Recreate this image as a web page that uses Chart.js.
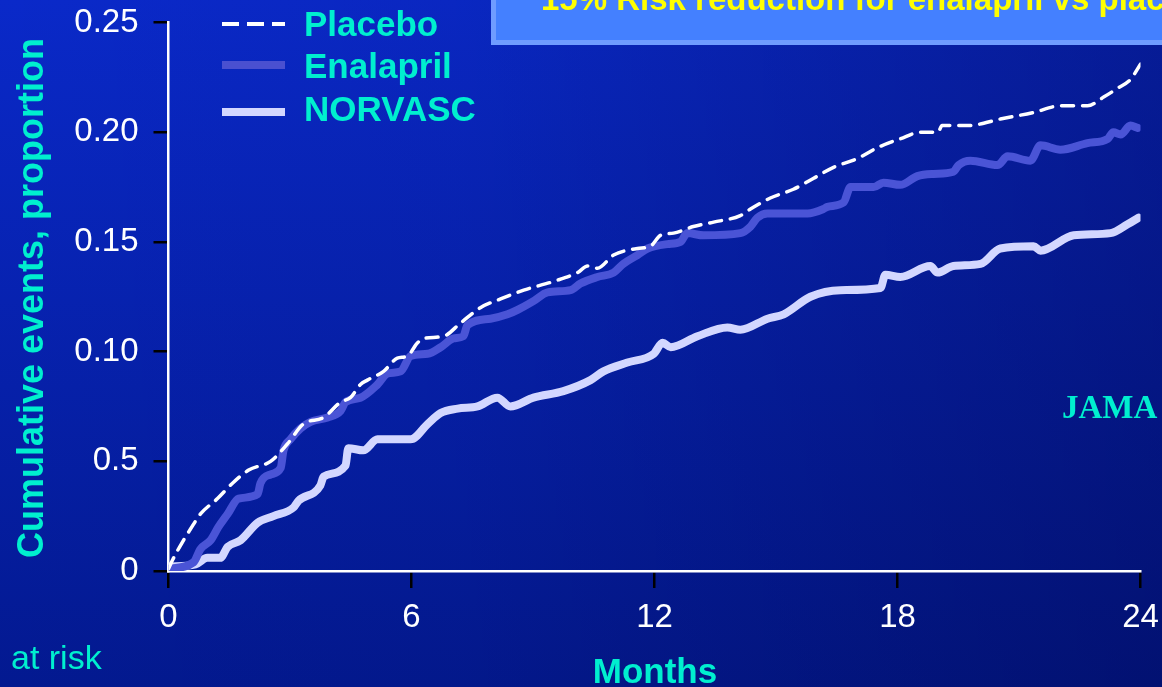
<!DOCTYPE html>
<html>
<head>
<meta charset="utf-8">
<script src="https://cdn.jsdelivr.net/npm/chart.js@4/dist/chart.umd.min.js"></script>
<style>
html,body{margin:0;padding:0;background:#031a9a;}
#wrap{position:relative;width:1162px;height:687px;}
canvas{display:block;}
</style>
</head>
<body>
<div id="wrap"><canvas id="c" width="1162" height="687"></canvas></div>
<script>
// ---- data ----
const seriesNames = ["Placebo", "Enalapril", "NORVASC"];
const xTickLabels = ["0", "6", "12", "18", "24"];
const yTickLabels = ["0", "0.5", "0.10", "0.15", "0.20", "0.25"];

const placeboMonths = [0,0.10,0.37,0.54,0.79,1.21,1.58,1.98,2.52,2.94,
  3.33,3.83,4.25,4.49,4.74,4.91,5.31,5.65,5.90,6.15,
  6.30,6.79,7.21,7.70,8.20,8.77,9.51,10.10,10.35,10.59,
  10.99,11.58,11.90,12.15,12.47,12.96,13.46,14.12,14.37,14.86,
  15.43,15.93,16.42,17.01,17.51,18.07,18.57,19.00,19.10,19.73,
  20.54,21.36,22.02,22.69,23.09,23.43,23.75,24.00];
const placeboValues = [0.001,0.005,0.014,0.019,0.026,0.033,0.040,0.046,0.050,0.058,
  0.067,0.070,0.077,0.079,0.085,0.087,0.091,0.097,0.098,0.104,
  0.106,0.107,0.113,0.120,0.124,0.128,0.132,0.136,0.139,0.138,
  0.144,0.147,0.148,0.153,0.154,0.157,0.159,0.162,0.165,0.170,
  0.174,0.179,0.184,0.188,0.193,0.197,0.200,0.200,0.203,0.203,
  0.206,0.209,0.212,0.212,0.216,0.220,0.224,0.231];

const enalaprilMonths = [0,0.62,0.79,1.04,1.23,1.46,1.73,2.20,2.27,2.52,
  2.77,2.84,3.01,3.26,3.51,3.93,4.25,4.37,4.74,5.16,
  5.41,5.73,5.98,6.40,6.72,7.04,7.28,7.38,7.95,8.37,
  8.62,9.01,9.36,9.93,10.17,10.59,10.99,11.23,11.58,11.83,
  12.32,12.64,12.81,13.21,14.12,14.37,14.54,14.79,15.78,16.17,
  16.27,16.67,16.84,17.41,17.65,18.07,18.49,18.89,19.38,19.51,
  19.80,20.47,20.72,21.28,21.53,22.02,22.69,23.19,23.33,23.51,
  23.75,23.93];
const enalaprilValues = [0.001,0.004,0.010,0.014,0.020,0.026,0.033,0.035,0.040,0.044,
  0.047,0.055,0.060,0.065,0.068,0.070,0.073,0.077,0.079,0.085,
  0.090,0.091,0.098,0.099,0.102,0.106,0.107,0.112,0.115,0.117,
  0.119,0.123,0.127,0.128,0.131,0.134,0.136,0.140,0.144,0.147,
  0.149,0.150,0.154,0.153,0.154,0.157,0.161,0.163,0.163,0.165,
  0.166,0.168,0.175,0.175,0.177,0.176,0.180,0.181,0.182,0.185,
  0.187,0.185,0.189,0.187,0.194,0.192,0.195,0.197,0.200,0.199,
  0.203,0.202];

const norvascMonths = [0,0.67,0.96,1.28,1.46,1.78,2.20,2.59,3.09,3.21,
  3.75,3.83,4.37,4.44,4.81,5.16,5.98,6.40,6.72,7.14,
  7.63,8.12,8.44,9.01,9.75,10.42,10.74,11.33,11.98,12.20,
  12.40,13.06,13.80,14.12,14.79,15.19,15.85,16.59,17.58,17.70,
  18.07,18.81,18.99,19.38,20.05,20.54,21.36,21.53,22.35,23.26,
  23.68,23.95];
const norvascValues = [0.002,0.003,0.006,0.006,0.011,0.014,0.022,0.025,0.029,0.032,
  0.039,0.043,0.048,0.056,0.055,0.060,0.060,0.067,0.072,0.074,
  0.075,0.079,0.075,0.079,0.082,0.087,0.091,0.095,0.099,0.104,
  0.102,0.107,0.111,0.110,0.115,0.117,0.125,0.128,0.129,0.135,
  0.134,0.139,0.136,0.139,0.140,0.147,0.148,0.146,0.153,0.154,
  0.158,0.161];

const bannerText = "15% Risk reduction for enalapril vs placebo";

// ---- helpers ----
const zip = (xs, ys) => xs.map((x, i) => ({x: x, y: ys[i]}));
const SANS = '"Liberation Sans", Arial, Helvetica, sans-serif';
const CYAN = '#00EFCF';

const bgPlugin = {
  id: 'bg',
  beforeDraw(chart) {
    const ctx = chart.ctx, w = chart.width, h = chart.height;
    ctx.save();
    const g = ctx.createLinearGradient(0, 0, 0, h);
    g.addColorStop(0, '#0a29c9');
    g.addColorStop(1, '#031990');
    ctx.fillStyle = g;
    ctx.fillRect(0, 0, w, h);
    const g2 = ctx.createLinearGradient(0, 0, w, 0);
    g2.addColorStop(0, 'rgba(0,0,40,0)');
    g2.addColorStop(0.4, 'rgba(0,0,40,0.05)');
    g2.addColorStop(1, 'rgba(0,0,50,0.32)');
    ctx.fillStyle = g2;
    ctx.fillRect(0, 0, w, h);
    ctx.restore();
  }
};

const textPlugin = {
  id: 'texts',
  afterDraw(chart) {
    const ctx = chart.ctx;
    ctx.save();
    // banner
    ctx.fillStyle = '#6f9cff';
    ctx.fillRect(491, -10, 700, 55);
    ctx.fillStyle = '#4480ff';
    ctx.fillRect(496, -10, 700, 50);
    ctx.fillStyle = '#ffff00';
    ctx.font = 'bold 33px ' + SANS;
    ctx.textAlign = 'left';
    ctx.textBaseline = 'alphabetic';
    ctx.fillText(bannerText, 541, 10);

    // legend
    const ds = chart.data.datasets;
    const legY = [24, 65, 112];
    const legBase = [36, 78, 121];
    for (let i = 0; i < ds.length; i++) {
      ctx.beginPath();
      ctx.strokeStyle = i === 1 ? '#4a50d0' : ds[i].borderColor;
      ctx.lineWidth = i === 0 ? 4 : ds[i].borderWidth;
      ctx.setLineDash(i === 0 ? [17, 8] : []);
      ctx.lineCap = 'butt';
      ctx.moveTo(222, legY[i]);
      ctx.lineTo(285, legY[i]);
      ctx.stroke();
      ctx.setLineDash([]);
      ctx.fillStyle = CYAN;
      ctx.font = 'bold 35px ' + SANS;
      ctx.fillText(ds[i].label, 304, legBase[i]);
    }

    // y axis title
    ctx.save();
    ctx.translate(43, 298);
    ctx.rotate(-Math.PI / 2);
    ctx.textAlign = 'center';
    ctx.fillStyle = CYAN;
    ctx.font = 'bold 36px ' + SANS;
    ctx.fillText('Cumulative events, proportion', 0, 0);
    ctx.restore();

    // x axis title
    ctx.textAlign = 'center';
    ctx.fillStyle = CYAN;
    ctx.font = 'bold 35px ' + SANS;
    ctx.fillText('Months', 655, 683);

    // at risk
    ctx.textAlign = 'left';
    ctx.font = '34px ' + SANS;
    ctx.fillText('at risk', 11, 669);

    // JAMA
    ctx.font = 'bold 33px "Liberation Serif", "Times New Roman", serif';
    ctx.fillText('JAMA', 1062, 418);
    ctx.restore();
  }
};

new Chart(document.getElementById('c'), {
  type: 'line',
  data: {
    datasets: [
      {label: seriesNames[0], data: zip(placeboMonths, placeboValues),
       borderColor: '#ffffff', borderWidth: 3.5, borderDash: [12, 9]},
      {label: seriesNames[1], data: zip(enalaprilMonths, enalaprilValues),
       borderColor: '#4a54d6', borderWidth: 8},
      {label: seriesNames[2], data: zip(norvascMonths, norvascValues),
       borderColor: '#d3d7ff', borderWidth: 8}
    ]
  },
  options: {
    responsive: false,
    animation: false,
    devicePixelRatio: 1,
    events: [],
    layout: {padding: {left: 0, right: 21.5, top: 22.5, bottom: 0}},
    elements: {
      point: {radius: 0},
      line: {cubicInterpolationMode: 'monotone', borderCapStyle: 'round', borderJoinStyle: 'round', fill: false}
    },
    plugins: {legend: {display: false}, tooltip: {enabled: false}, title: {display: false}},
    scales: {
      x: {
        type: 'linear', min: 0, max: 24,
        afterFit(s) { s.height = 116; s.paddingLeft = 0; s.paddingRight = 0; },
        afterBuildTicks(s) { s.ticks = xTickLabels.map(v => ({value: +v})); },
        ticks: {
          color: '#ffffff', font: {family: SANS, size: 33}, padding: 10,
          maxRotation: 0, autoSkip: false,
          callback: (v, i) => xTickLabels[i]
        },
        grid: {drawOnChartArea: false, drawTicks: true, tickLength: 17, color: '#000000', lineWidth: 2.5},
        border: {display: true, color: '#ffffff', width: 2.5}
      },
      y: {
        type: 'linear', min: 0, max: 0.25,
        afterFit(s) { s.width = 168.5; s.paddingTop = 0; s.paddingBottom = 0; },
        afterBuildTicks(s) { s.ticks = yTickLabels.map((t, i) => ({value: i * 0.05})); },
        ticks: {
          color: '#ffffff', font: {family: SANS, size: 33}, padding: 15,
          autoSkip: false,
          callback: (v, i) => yTickLabels[i]
        },
        grid: {drawOnChartArea: false, drawTicks: true, tickLength: 15, color: '#000000', lineWidth: 2.5},
        border: {display: true, color: '#ffffff', width: 2.5}
      }
    }
  },
  plugins: [bgPlugin, textPlugin]
});
</script>
</body>
</html>
